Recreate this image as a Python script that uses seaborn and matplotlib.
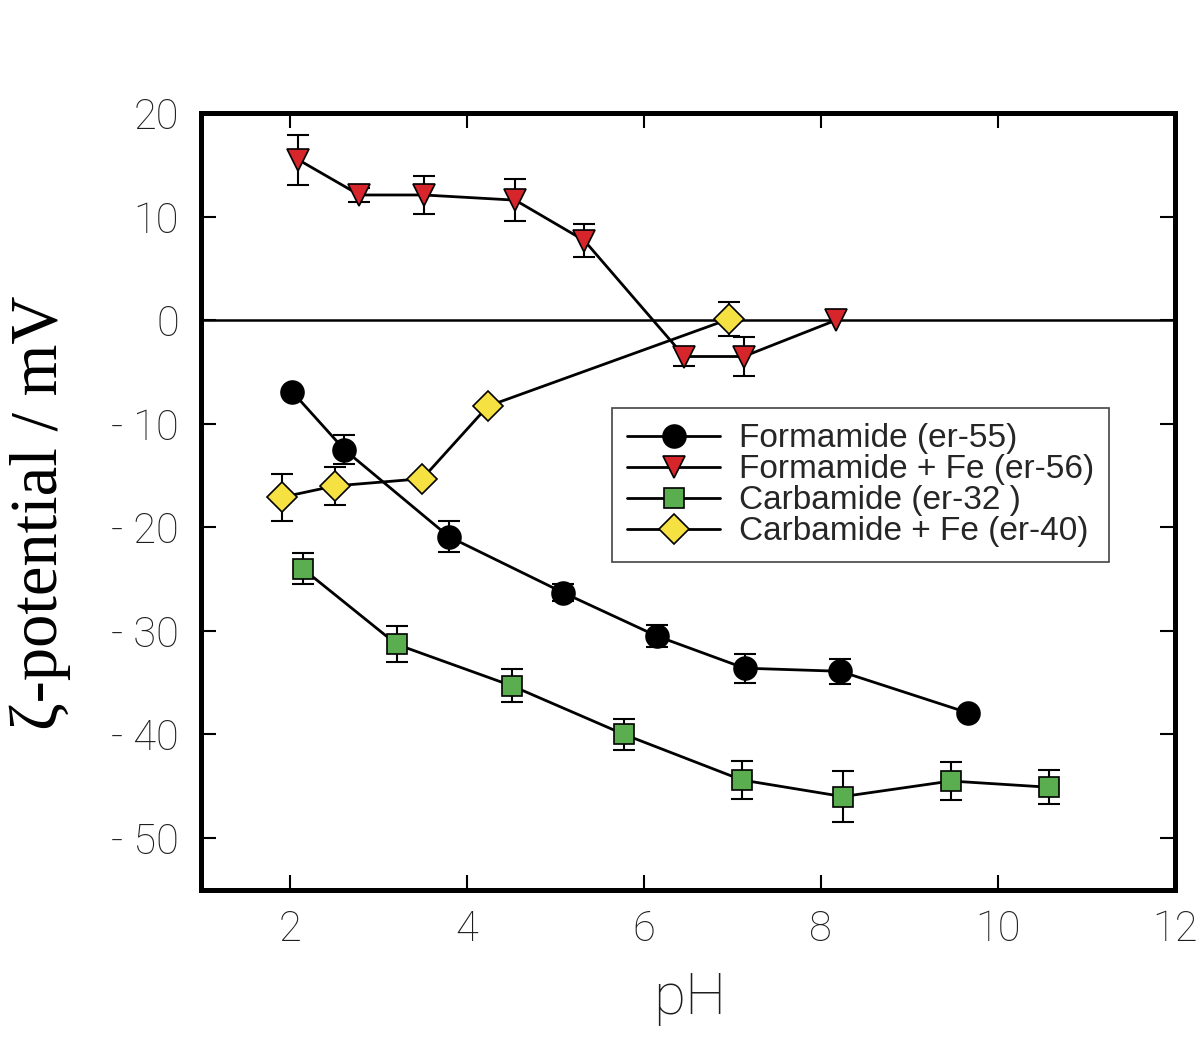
import numpy as np
import matplotlib
matplotlib.use('Agg')
import matplotlib.pyplot as plt
import seaborn as sns
from matplotlib.lines import Line2D

# Formamide (er-55)
form_ph = [2.03, 2.62, 3.80, 5.09, 6.15, 7.14, 8.22, 9.66]
form_zeta = [-6.9, -12.5, -20.9, -26.3, -30.5, -33.6, -33.9, -37.9]
form_err = [0.0, 1.4, 1.5, 0.8, 1.1, 1.4, 1.2, 0.0]

# Formamide + Fe (er-56)
formfe_ph = [2.10, 2.79, 3.52, 4.55, 5.33, 6.46, 7.13, 8.17]
formfe_zeta = [15.5, 12.1, 12.1, 11.6, 7.7, -3.5, -3.5, 0.0]
formfe_err = [2.4, 0.7, 1.8, 2.0, 1.6, 0.9, 1.9, 0.0]

# Carbamide (er-32)
carb_ph = [2.15, 3.21, 4.51, 5.78, 7.11, 8.25, 9.47, 10.58]
carb_zeta = [-24.0, -31.3, -35.3, -40.0, -44.4, -46.0, -44.5, -45.1]
carb_err = [1.5, 1.75, 1.6, 1.5, 1.8, 2.5, 1.85, 1.65]

# Carbamide + Fe (er-40)
carbfe_ph = [1.91, 2.51, 3.50, 4.24, 6.96]
carbfe_zeta = [-17.1, -16.0, -15.3, -8.3, 0.1]
carbfe_err = [2.3, 1.8, 0.0, 0.0, 1.65]

labels = ['Formamide (er-55)', 'Formamide + Fe (er-56)',
          'Carbamide (er-32 )', 'Carbamide + Fe (er-40)']
x_ticks = [2, 4, 6, 8, 10, 12]
y_ticks = [20, 10, 0, -10, -20, -30, -40, -50]
y_ticklabels = ['20', '10', '0', '- 10', '- 20', '- 30', '- 40', '- 50']

sns.set_style('ticks')
plt.rcParams['font.family'] = ['Roboto', 'DejaVu Sans']

fig, ax = plt.subplots(figsize=(12, 10.48), dpi=100)
fig.subplots_adjust(left=0.1675, right=0.979, top=0.892, bottom=0.151)

series = [
    (form_ph, form_zeta, form_err, 'o', 16.5, 'black'),
    (formfe_ph, formfe_zeta, formfe_err, 'v', 16, '#d7262b'),
    (carb_ph, carb_zeta, carb_err, 's', 14, '#5aae50'),
    (carbfe_ph, carbfe_zeta, carbfe_err, 'D', 15, '#f5e142'),
]

ax.axhline(0, color='black', lw=1.8, zorder=1)

handles = []
for (ph, zeta, err, mk, ms, fc), lab in zip(series, labels):
    ph = np.array(ph)
    zeta = np.array(zeta)
    err = np.array(err)
    m = err > 0
    ax.errorbar(ph[m], zeta[m], yerr=err[m], fmt='none', ecolor='black',
                elinewidth=1.5, capsize=8, capthick=1.5, zorder=2)
    sns.lineplot(x=ph, y=zeta, ax=ax, sort=False, estimator=None, legend=False,
                 color='black', lw=2, marker=mk, markersize=ms,
                 markerfacecolor=fc, markeredgecolor='black',
                 markeredgewidth=1.2, zorder=3)
    handles.append(Line2D([], [], color='black', lw=2, marker=mk, markersize=ms,
                          markerfacecolor=fc, markeredgecolor='black',
                          markeredgewidth=1.2, label=lab))

ax.set_xlim(1, 12)
ax.set_ylim(-55, 20)
ax.set_xticks(x_ticks)
ax.set_xticklabels([str(t) for t in x_ticks])
ax.set_yticks(y_ticks)
ax.set_yticklabels(y_ticklabels)

for sp in ax.spines.values():
    sp.set_linewidth(3.6)
    sp.set_color('black')
    sp.set_visible(True)

ax.tick_params(axis='both', which='major', direction='in', length=11, width=1.5,
               top=True, right=True, labelsize=30, labelcolor='#1e1e1e', color='black')
ax.tick_params(axis='x', pad=14)
ax.tick_params(axis='y', pad=16)
for t in ax.get_xticklabels() + ax.get_yticklabels():
    t.set_fontweight('light')

ax.set_xlabel('pH', fontsize=42, color='#1e1e1e', fontweight='light')
ax.xaxis.set_label_coords(0.502, -0.105)
ax.set_ylabel('ζ-potential / mV', fontsize=48, color='black',
              family=['Liberation Serif', 'DejaVu Serif'])
ax.yaxis.set_label_coords(-0.134, 0.485)

leg = ax.legend(handles=handles, loc='upper left', bbox_to_anchor=(0.422, 0.62),
                borderaxespad=0, prop={'family': 'Liberation Sans', 'size': 24},
                frameon=True, fancybox=False, edgecolor='#444444',
                framealpha=1, handlelength=2.8, labelspacing=0.0,
                borderpad=0.45, handletextpad=0.55)
leg.get_frame().set_linewidth(1.2)

plt.savefig('out.png', dpi=100, facecolor='white')
plt.close()
